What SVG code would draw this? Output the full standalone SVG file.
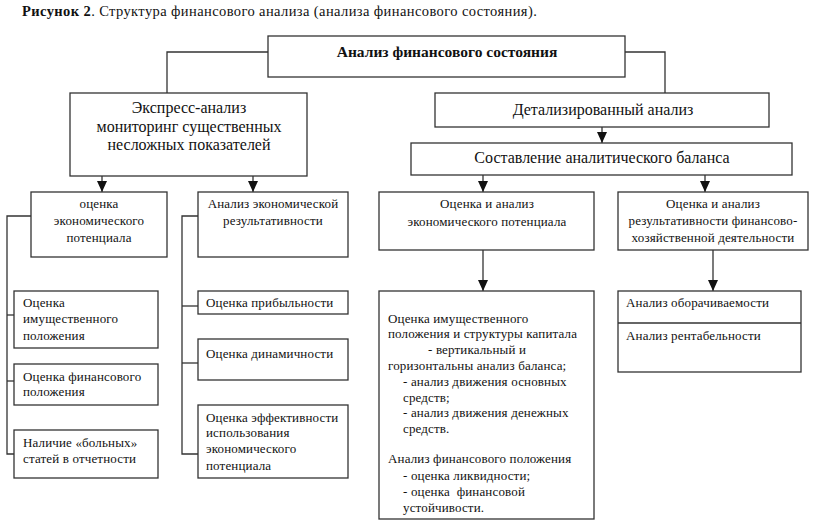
<svg xmlns="http://www.w3.org/2000/svg" width="814" height="529" viewBox="0 0 814 529">
<defs>
<marker id="arr" markerUnits="userSpaceOnUse" markerWidth="11" markerHeight="10" refX="11" refY="5" orient="auto" viewBox="0 0 11 10">
<path d="M0,0 L11,5 L0,10 Z" fill="#111"/>
</marker>
</defs>
<style>
.box{fill:#fff;stroke:#333;stroke-width:1.3}
.ln{fill:none;stroke:#333;stroke-width:1.3}
.big{font-family:"Liberation Serif","Times New Roman",serif;font-size:16px;fill:#111}
.sm{font-family:"Liberation Serif","Times New Roman",serif;font-size:13px;letter-spacing:0.15px;fill:#111}
.c{text-anchor:middle}
.b{font-weight:bold}
</style>
<rect width="814" height="529" fill="#fff"/>
<text x="22" y="16" class="big" style="font-size:14.5px;letter-spacing:0.4px"><tspan class="b">Рисунок 2</tspan>. Структура финансового анализа (анализа финансового состояния).</text>

<g id="connectors">
<polyline class="ln" points="268,52 167,52 167,93"/>
<polyline class="ln" points="625,52 665,52 665,93"/>
<line class="ln" x1="602" y1="127" x2="602" y2="143" marker-end="url(#arr)"/>
<line class="ln" x1="102" y1="176" x2="102" y2="192" marker-end="url(#arr)"/>
<line class="ln" x1="253" y1="176" x2="253" y2="192" marker-end="url(#arr)"/>
<line class="ln" x1="483" y1="175" x2="483" y2="192" marker-end="url(#arr)"/>
<line class="ln" x1="705" y1="175" x2="705" y2="192" marker-end="url(#arr)"/>
<line class="ln" x1="483" y1="250" x2="483" y2="291" marker-end="url(#arr)"/>
<line class="ln" x1="713" y1="250" x2="713" y2="291" marker-end="url(#arr)"/>
<polyline class="ln" points="31,216 7,216 7,454 14,454"/>
<line class="ln" x1="7" y1="315" x2="14" y2="315"/>
<line class="ln" x1="7" y1="381" x2="14" y2="381"/>
<polyline class="ln" points="198,216 182,216 182,454 198,454"/>
<line class="ln" x1="182" y1="306" x2="198" y2="306"/>
<line class="ln" x1="182" y1="363" x2="198" y2="363"/>
</g>

<g id="root">
<rect class="box" x="268" y="36" width="357" height="41"/>
<text x="447" y="57" class="big c b" style="font-size:15.5px">Анализ финансового состояния</text>
</g>

<g id="express">
<rect class="box" x="70" y="93" width="237" height="83"/>
<text class="big c"><tspan x="189" y="113">Экспресс-анализ</tspan><tspan x="189" y="132">мониторинг существенных</tspan><tspan x="189" y="150">несложных показателей</tspan></text>
</g>

<g id="detailed">
<rect class="box" x="435" y="93" width="334" height="34"/>
<text x="603" y="115" class="big c">Детализированный анализ</text>
</g>

<g id="balance">
<rect class="box" x="411" y="143" width="381" height="32"/>
<text x="602" y="163" class="big c">Составление аналитического баланса</text>
</g>

<g id="econ-potential">
<rect class="box" x="31" y="192" width="136" height="65"/>
<text class="sm c"><tspan x="99" y="208">оценка</tspan><tspan x="99" y="225">экономического</tspan><tspan x="99" y="242">потенциала</tspan></text>
</g>

<g id="econ-result">
<rect class="box" x="198" y="192" width="150" height="65"/>
<text class="sm c"><tspan x="273" y="208">Анализ экономической</tspan><tspan x="273" y="225">результативности</tspan></text>
</g>

<g id="ea-potential">
<rect class="box" x="379" y="192" width="215" height="58"/>
<text class="sm c"><tspan x="487" y="208">Оценка и анализ</tspan><tspan x="487" y="226">экономического потенциала</tspan></text>
</g>

<g id="ea-result">
<rect class="box" x="618" y="192" width="190" height="58"/>
<text class="sm c"><tspan x="713" y="208">Оценка и анализ</tspan><tspan x="713" y="225">результативности финансово-</tspan><tspan x="713" y="242">хозяйственной деятельности</tspan></text>
</g>

<g id="property">
<rect class="box" x="14" y="291" width="144" height="57"/>
<text class="sm"><tspan x="23" y="307">Оценка</tspan><tspan x="23" y="323">имущественного</tspan><tspan x="23" y="340">положения</tspan></text>
</g>

<g id="fin-position">
<rect class="box" x="14" y="364" width="144" height="41"/>
<text class="sm"><tspan x="23" y="381">Оценка финансового</tspan><tspan x="23" y="396">положения</tspan></text>
</g>

<g id="sick">
<rect class="box" x="14" y="430" width="144" height="48"/>
<text class="sm"><tspan x="23" y="447">Наличие «больных»</tspan><tspan x="23" y="463">статей в отчетности</tspan></text>
</g>

<g id="profit">
<rect class="box" x="198" y="291" width="150" height="23"/>
<text x="206" y="307" class="sm">Оценка прибыльности</text>
</g>

<g id="dynamic">
<rect class="box" x="198" y="339" width="150" height="41"/>
<text x="206" y="358" class="sm">Оценка динамичности</text>
</g>

<g id="efficiency">
<rect class="box" x="198" y="405" width="150" height="73"/>
<text class="sm"><tspan x="206" y="422">Оценка эффективности</tspan><tspan x="206" y="437">использования</tspan><tspan x="206" y="453">экономического</tspan><tspan x="206" y="470">потенциала</tspan></text>
</g>

<g id="detail-list">
<rect class="box" x="379" y="291" width="215" height="228"/>
<text class="sm"><tspan x="388" y="323">Оценка имущественного</tspan><tspan x="388" y="338">положения и структуры капитала</tspan><tspan x="428" y="354">- вертикальный и</tspan><tspan x="388" y="370">горизонтальны анализ баланса;</tspan><tspan x="403" y="386">- анализ движения основных</tspan><tspan x="403" y="402">средств;</tspan><tspan x="403" y="417">- анализ движения денежных</tspan><tspan x="403" y="433">средств.</tspan><tspan x="388" y="463">Анализ финансового положения</tspan><tspan x="403" y="480">- оценка ликвидности;</tspan><tspan x="403" y="496" xml:space="preserve">- оценка  финансовой</tspan><tspan x="403" y="512">устойчивости.</tspan></text>
</g>

<g id="turnover">
<rect class="box" x="618" y="291" width="183" height="81"/>
<line class="ln" x1="618" y1="323" x2="801" y2="323"/>
<text x="626" y="307" class="sm">Анализ оборачиваемости</text>
<text x="626" y="340" class="sm">Анализ рентабельности</text>
</g>
</svg>
